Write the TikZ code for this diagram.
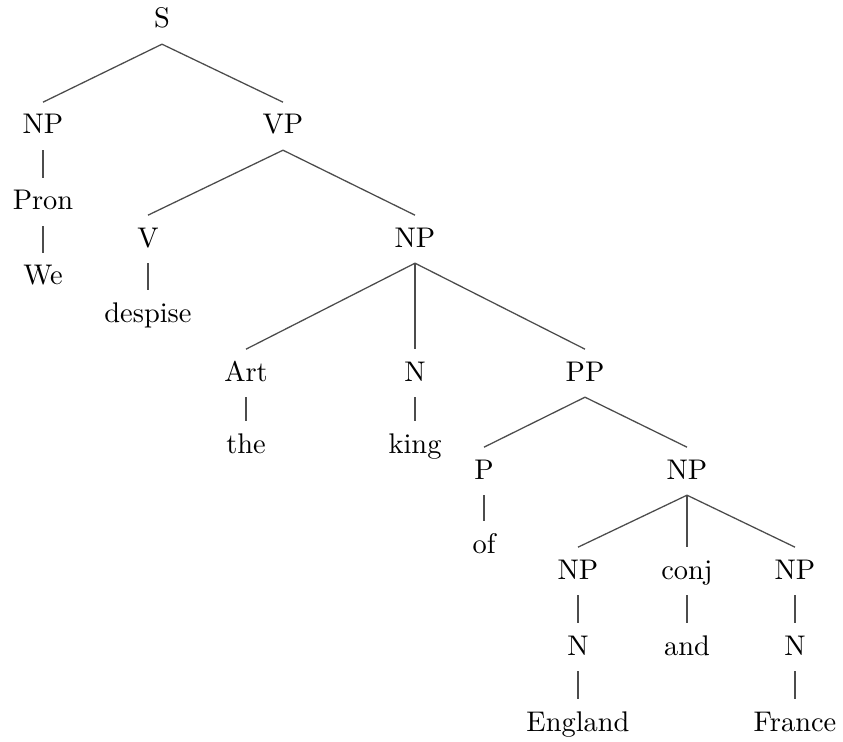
\documentclass[tikz,border=0pt]{standalone}
\usepackage{tikz}

\begin{document}
\begin{tikzpicture}[x=0.352pt, y=-0.352pt,
  cat/.style={anchor=base, inner sep=4pt, text height=7pt, text depth=1.5pt},
  branch/.style={black!70, line width=0.45pt}]
\useasboundingbox (0,0) rectangle (843,742);
\node[cat] (s) at (162,28) {S};
\node[cat] (np) at (43,134) {NP};
\node[cat] (pron) at (43,210) {Pron};
\node[cat] (we) at (43,285) {We};
\node[cat] (vp) at (283,134) {VP};
\node[cat] (v) at (148,247) {V};
\node[cat] (despise) at (148,322) {despise};
\node[cat] (npobj) at (415,247) {NP};
\node[cat] (art) at (246,381) {Art};
\node[cat] (the) at (246,453) {the};
\node[cat] (n) at (415,381) {N};
\node[cat] (king) at (415,453) {king};
\node[cat] (pp) at (585,381) {PP};
\node[cat] (p) at (484,479) {P};
\node[cat] (of) at (484,553) {of};
\node[cat] (npco) at (687,479) {NP};
\node[cat] (npl) at (578,579) {NP};
\node[cat] (conj) at (687,579) {conj};
\node[cat] (npr) at (795,579) {NP};
\node[cat] (nl) at (578,655) {N};
\node[cat] (and) at (687,655) {and};
\node[cat] (nr) at (795,655) {N};
\node[cat] (england) at (578,731) {England};
\node[cat] (france) at (795,731) {France};
\draw[branch] (s.south) -- (np.north);
\draw[branch] (s.south) -- (vp.north);
\draw[branch] (np.south) -- (pron.north);
\draw[branch] (pron.south) -- (we.north);
\draw[branch] (vp.south) -- (v.north);
\draw[branch] (vp.south) -- (npobj.north);
\draw[branch] (v.south) -- (despise.north);
\draw[branch] (npobj.south) -- (art.north);
\draw[branch] (npobj.south) -- (n.north);
\draw[branch] (npobj.south) -- (pp.north);
\draw[branch] (art.south) -- (the.north);
\draw[branch] (n.south) -- (king.north);
\draw[branch] (pp.south) -- (p.north);
\draw[branch] (pp.south) -- (npco.north);
\draw[branch] (p.south) -- (of.north);
\draw[branch] (npco.south) -- (npl.north);
\draw[branch] (npco.south) -- (conj.north);
\draw[branch] (npco.south) -- (npr.north);
\draw[branch] (npl.south) -- (nl.north);
\draw[branch] (conj.south) -- (and.north);
\draw[branch] (npr.south) -- (nr.north);
\draw[branch] (nl.south) -- (england.north);
\draw[branch] (nr.south) -- (france.north);
\end{tikzpicture}
\end{document}
